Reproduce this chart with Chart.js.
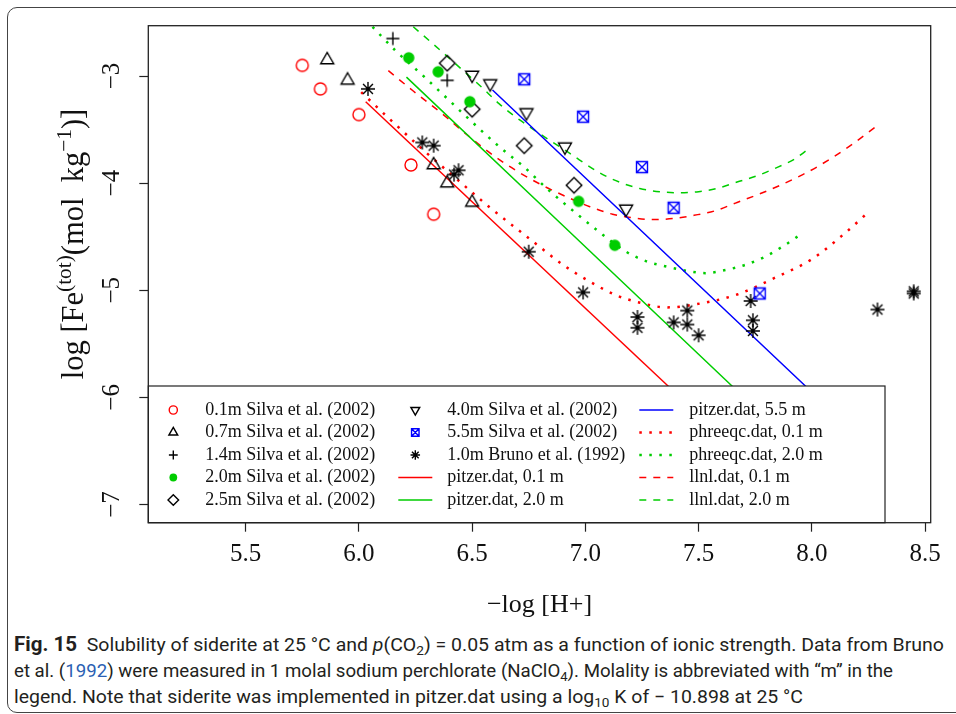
<!DOCTYPE html>
<html lang="en">
<head>
<meta charset="UTF-8" />
<title>Solubility of siderite</title>
<script src="https://cdn.jsdelivr.net/npm/chart.js@4"></script>
<style>
  body { margin: 0; width: 956px; height: 714px; position: relative; overflow: hidden; background: #fff; font-family: "Liberation Serif", serif; }
  .frame { position: absolute; left: 7px; top: 7px; width: 1000px; height: 704px; border: 1px solid #444; border-radius: 10px; pointer-events: none; }
  .chart-box { position: absolute; left: 0; top: 0; width: 956px; height: 625px; }
  .ytitle { position: absolute; left: 73px; top: 244px; transform: translate(-50%, -50%) rotate(-90deg); font-size: 30.5px; white-space: nowrap; color: #111; line-height: 34px; }
  .ytitle sup { font-size: 70%; vertical-align: 0.55em; line-height: 0; }
  .caption { position: absolute; left: 14px; top: 632px; font-family: Roboto, "Noto Sans", sans-serif; font-size: 18.5px; line-height: 26px; color: #231f20; white-space: nowrap; }
  .caption .cl { width: max-content; transform-origin: 0 50%; }
  .caption b { font-size: 19.5px; }
  .caption sub { font-size: 70%; line-height: 0; vertical-align: -0.3em; }
  .caption .link { color: #2b5fb3; }
</style>
</head>
<body>
<div class="chart-box"><canvas id="chart" width="956" height="625"></canvas></div>
<div class="ytitle">log [Fe<sup>(tot)</sup>(mol&nbsp; kg<sup>−1</sup>)]</div>
<div class="caption">
  <div class="cl" data-w="930"><b>Fig. 15</b>&nbsp; Solubility of siderite at 25 °C and <i>p</i>(CO<sub>2</sub>) = 0.05 atm as a function of ionic strength. Data from Bruno</div>
  <div class="cl" data-w="879">et al. (<span class="link">1992</span>) were measured in 1 molal sodium perchlorate (NaClO<sub>4</sub>). Molality is abbreviated with “m” in the</div>
  <div class="cl" data-w="789">legend. Note that siderite was implemented in pitzer.dat using a log<sub>10</sub> K of − 10.898 at 25 °C</div>
</div>
<div class="frame"></div>

<script>
// axis setup
const xTicks = [5.5, 6.0, 6.5, 7.0, 7.5, 8.0, 8.5];
const yTicks = [-3, -4, -5, -6, -7];
const xRange = [5.07, 8.525];
const yRange = [-7.17, -2.53];

// measured points, [-log H+, log Fe]
const silva01 = [[5.75, -2.90], [5.83, -3.12], [6.00, -3.36], [6.23, -3.83], [6.33, -4.29]];
const silva07 = [[5.86, -2.85], [5.95, -3.04], [6.33, -3.83], [6.39, -4.00], [6.50, -4.18]];
const silva14 = [[6.15, -2.65], [6.39, -3.04]];
const silva20 = [[6.22, -2.83], [6.35, -2.96], [6.49, -3.24], [6.97, -4.17], [7.13, -4.58]];
const silva25 = [[6.39, -2.88], [6.50, -3.31], [6.73, -3.65], [6.95, -4.02]];
const silva40 = [[6.50, -2.99], [6.58, -3.07], [6.74, -3.34], [6.91, -3.66], [7.18, -4.24]];
const silva55 = [[6.73, -3.03], [6.99, -3.38], [7.25, -3.85], [7.39, -4.23], [7.77, -5.03]];
const bruno10 = [[6.04, -3.12], [6.28, -3.62], [6.33, -3.65], [6.44, -3.88], [6.42, -3.92],
  [6.75, -4.64], [6.99, -5.02], [7.23, -5.25], [7.23, -5.35], [7.39, -5.30], [7.45, -5.19],
  [7.45, -5.32], [7.50, -5.42], [7.73, -5.10], [7.74, -5.28], [7.74, -5.38], [8.29, -5.18],
  [8.45, -5.01], [8.45, -5.03]];

// model curves
const pitzer01 = [[6.03, -3.24], [7.60, -6.36]];
const pitzer20 = [[6.21, -3.01], [7.85, -6.30]];
const pitzer55 = [[6.59, -3.13], [8.10, -6.15]];
const phreeqc01 = [[6.01, -3.15], [6.14, -3.41], [6.30, -3.72], [6.42, -3.94], [6.58, -4.23],
  [6.76, -4.53], [6.90, -4.76], [7.02, -4.92], [7.14, -5.05], [7.23, -5.11], [7.36, -5.16],
  [7.49, -5.13], [7.67, -5.04], [7.84, -4.88], [8.00, -4.71], [8.15, -4.46], [8.25, -4.27]];
const phreeqc20 = [[6.06, -2.54], [6.16, -2.76], [6.29, -3.01], [6.39, -3.21], [6.49, -3.41],
  [6.62, -3.66], [6.73, -3.85], [6.83, -4.05], [6.97, -4.30], [7.07, -4.47], [7.18, -4.64],
  [7.27, -4.73], [7.36, -4.78], [7.45, -4.82], [7.53, -4.84], [7.62, -4.81], [7.71, -4.76],
  [7.79, -4.69], [7.88, -4.58], [7.95, -4.48]];
const llnl01 = [[6.13, -2.95], [6.24, -3.14], [6.39, -3.39], [6.45, -3.50], [6.58, -3.72],
  [6.70, -3.89], [6.81, -4.02], [6.93, -4.14], [7.02, -4.22], [7.12, -4.29], [7.20, -4.32],
  [7.30, -4.34], [7.39, -4.33], [7.48, -4.30], [7.57, -4.26], [7.67, -4.18], [7.77, -4.10],
  [7.86, -4.02], [7.96, -3.92], [8.03, -3.84], [8.17, -3.65], [8.29, -3.46]];
const llnl20 = [[6.24, -2.54], [6.36, -2.76], [6.45, -2.93], [6.54, -3.10], [6.62, -3.26],
  [6.71, -3.41], [6.80, -3.54], [6.93, -3.72], [7.06, -3.90], [7.15, -3.99], [7.24, -4.05],
  [7.33, -4.08], [7.42, -4.09], [7.50, -4.08], [7.58, -4.05], [7.67, -3.99], [7.76, -3.93],
  [7.85, -3.85], [7.92, -3.78], [7.98, -3.69]];

const RED = "#ff0000", GREEN = "#00cd00", BLUE = "#0000ff", BLACK = "#000000";
const DOTTED = [2.5, 7.5], DASHED = [7, 7];

function drawMarker(ctx, kind, color, x, y, k) {
  ctx.save();
  ctx.translate(x, y);
  ctx.strokeStyle = color;
  ctx.fillStyle = color;
  ctx.lineWidth = 1.4;
  ctx.setLineDash([]);
  ctx.beginPath();
  if (kind === "circle") {
    ctx.arc(0, 0, 6 * k, 0, 2 * Math.PI);
    ctx.stroke();
  } else if (kind === "dot") {
    ctx.arc(0, 0, 5.7 * k, 0, 2 * Math.PI);
    ctx.fill();
  } else if (kind === "up" || kind === "down") {
    const r = 7.5 * k, s = kind === "up" ? 1 : -1;
    ctx.moveTo(0, -s * r);
    ctx.lineTo(0.866 * r, s * 0.5 * r);
    ctx.lineTo(-0.866 * r, s * 0.5 * r);
    ctx.closePath();
    ctx.stroke();
  } else if (kind === "plus") {
    const r = 6.5 * k;
    ctx.moveTo(-r, 0); ctx.lineTo(r, 0);
    ctx.moveTo(0, -r); ctx.lineTo(0, r);
    ctx.stroke();
  } else if (kind === "diamond") {
    const r = 7.8 * k;
    ctx.moveTo(0, -r); ctx.lineTo(r, 0); ctx.lineTo(0, r); ctx.lineTo(-r, 0);
    ctx.closePath();
    ctx.stroke();
  } else if (kind === "boxx") {
    const h = 5.5 * k;
    ctx.rect(-h, -h, 2 * h, 2 * h);
    ctx.moveTo(-h, -h); ctx.lineTo(h, h);
    ctx.moveTo(h, -h); ctx.lineTo(-h, h);
    ctx.stroke();
  } else if (kind === "star") {
    const r = 7 * k, d = r * 0.707;
    ctx.lineWidth = 1.4;
    ctx.moveTo(-r, 0); ctx.lineTo(r, 0);
    ctx.moveTo(0, -r); ctx.lineTo(0, r);
    ctx.moveTo(-d, -d); ctx.lineTo(d, d);
    ctx.moveTo(d, -d); ctx.lineTo(-d, d);
    ctx.stroke();
  }
  ctx.restore();
}

function markerImage(kind, color) {
  const c = document.createElement("canvas");
  c.width = 20;
  c.height = 20;
  drawMarker(c.getContext("2d"), kind, color, 10, 10, 1);
  return c;
}

function toXY(arr) {
  return arr.map(p => ({ x: p[0], y: p[1] }));
}

function pointSet(label, arr, kind, color) {
  return {
    label: label,
    data: toXY(arr),
    showLine: false,
    pointStyle: markerImage(kind, color),
    pointRadius: 6,
    marker: kind,
    color: color,
  };
}

function lineSet(label, arr, color, dash, width) {
  return {
    label: label,
    data: toXY(arr),
    showLine: true,
    pointRadius: 0,
    borderColor: color,
    borderWidth: width,
    borderDash: dash,
    borderCapStyle: "butt",
    cubicInterpolationMode: "monotone",
    color: color,
  };
}

const datasets = [
  pointSet("0.1m Silva et al. (2002)", silva01, "circle", RED),
  pointSet("0.7m Silva et al. (2002)", silva07, "up", BLACK),
  pointSet("1.4m Silva et al. (2002)", silva14, "plus", BLACK),
  pointSet("2.0m Silva et al. (2002)", silva20, "dot", GREEN),
  pointSet("2.5m Silva et al. (2002)", silva25, "diamond", BLACK),
  pointSet("4.0m Silva et al. (2002)", silva40, "down", BLACK),
  pointSet("5.5m Silva et al. (2002)", silva55, "boxx", BLUE),
  pointSet("1.0m Bruno et al. (1992)", bruno10, "star", BLACK),
  lineSet("pitzer.dat, 0.1 m", pitzer01, RED, [], 1.5),
  lineSet("pitzer.dat, 2.0 m", pitzer20, GREEN, [], 1.5),
  lineSet("pitzer.dat, 5.5 m", pitzer55, BLUE, [], 1.5),
  lineSet("phreeqc.dat, 0.1 m", phreeqc01, RED, DOTTED, 2.5),
  lineSet("phreeqc.dat, 2.0 m", phreeqc20, GREEN, DOTTED, 2.5),
  lineSet("llnl.dat, 0.1 m", llnl01, RED, DASHED, 1.5),
  lineSet("llnl.dat, 2.0 m", llnl20, GREEN, DASHED, 1.5),
];

const serif = "'Liberation Serif', 'Times New Roman', serif";
const fmtY = v => (v < 0 ? "−" : "") + Math.abs(v);

const boxPlugin = {
  id: "boxPlugin",
  afterDraw(chart) {
    const { ctx, chartArea: a, scales } = chart;

    // y tick labels, rotated like base R
    ctx.save();
    ctx.fillStyle = "#111";
    ctx.font = "25px " + serif;
    ctx.textAlign = "center";
    ctx.textBaseline = "middle";
    yTicks.forEach(v => {
      ctx.save();
      ctx.translate(a.left - 36, scales.y.getPixelForValue(v));
      ctx.rotate(-Math.PI / 2);
      ctx.fillText(fmtY(v), 0, 0);
      ctx.restore();
    });
    ctx.restore();

    // legend box in the lower part of the panel
    const lx = a.left, ly = a.bottom - 136.7, lw = 736.7, lh = 136.7;
    ctx.save();
    ctx.fillStyle = "#fff";
    ctx.fillRect(lx, ly, lw, lh);
    ctx.strokeStyle = "#222";
    ctx.lineWidth = 1.2;
    ctx.strokeRect(lx, ly, lw, lh);
    const symX = [25, 267, 508];
    const textX = [57, 299, 541];
    ctx.font = "18px " + serif;
    ctx.textBaseline = "middle";
    ctx.textAlign = "left";
    chart.data.datasets.forEach((ds, i) => {
      const col = Math.floor(i / 5), row = i % 5;
      const y = ly + 24 + row * 22.5;
      const sx = lx + symX[col];
      if (ds.marker) {
        drawMarker(ctx, ds.marker, ds.color, sx, y, 0.68);
      } else {
        ctx.save();
        ctx.strokeStyle = ds.borderColor;
        ctx.lineWidth = ds.borderWidth;
        ctx.setLineDash(ds.borderDash);
        ctx.beginPath();
        ctx.moveTo(sx - 17, y);
        ctx.lineTo(sx + 17, y);
        ctx.stroke();
        ctx.restore();
      }
      ctx.fillStyle = "#111";
      ctx.fillText(ds.label, lx + textX[col], y);
    });
    ctx.restore();

    // plot frame
    ctx.save();
    ctx.strokeStyle = "#222";
    ctx.lineWidth = 1.3;
    ctx.strokeRect(a.left, a.top, a.right - a.left, a.bottom - a.top);
    ctx.restore();
  },
};

new Chart(document.getElementById("chart"), {
  type: "scatter",
  data: { datasets: datasets },
  options: {
    responsive: false,
    animation: false,
    devicePixelRatio: 1,
    layout: { padding: { left: 0, top: 25.7, right: 25.3, bottom: 0 } },
    plugins: { legend: { display: false }, tooltip: { enabled: false } },
    scales: {
      x: {
        type: "linear",
        min: xRange[0],
        max: xRange[1],
        afterBuildTicks: s => { s.ticks = xTicks.map(v => ({ value: v })); },
        afterFit: s => { s.height = 102.3; },
        ticks: {
          color: "#111",
          font: { family: serif, size: 25 },
          padding: 8,
          maxRotation: 0,
          autoSkip: false,
          callback: v => v.toFixed(1),
        },
        grid: { drawOnChartArea: false, tickLength: 9, tickColor: "#222", tickWidth: 1.2 },
        border: { display: false },
        title: {
          display: true,
          text: "−log [H+]",
          color: "#111",
          font: { family: serif, size: 26 },
          padding: { top: 0, bottom: 4 },
        },
      },
      y: {
        type: "linear",
        min: yRange[0],
        max: yRange[1],
        afterBuildTicks: s => { s.ticks = yTicks.map(v => ({ value: v })); },
        afterFit: s => { s.width = 148.3; },
        ticks: { display: false },
        grid: { drawOnChartArea: false, tickLength: 9, tickColor: "#222", tickWidth: 1.2 },
        border: { display: false },
      },
    },
  },
  plugins: [boxPlugin],
});

// squeeze the caption lines to the narrow journal typeface widths
document.querySelectorAll(".caption .cl").forEach(el => {
  const w = el.getBoundingClientRect().width;
  el.style.transform = "scaleX(" + (Number(el.dataset.w) / w) + ")";
});
</script>
</body>
</html>
